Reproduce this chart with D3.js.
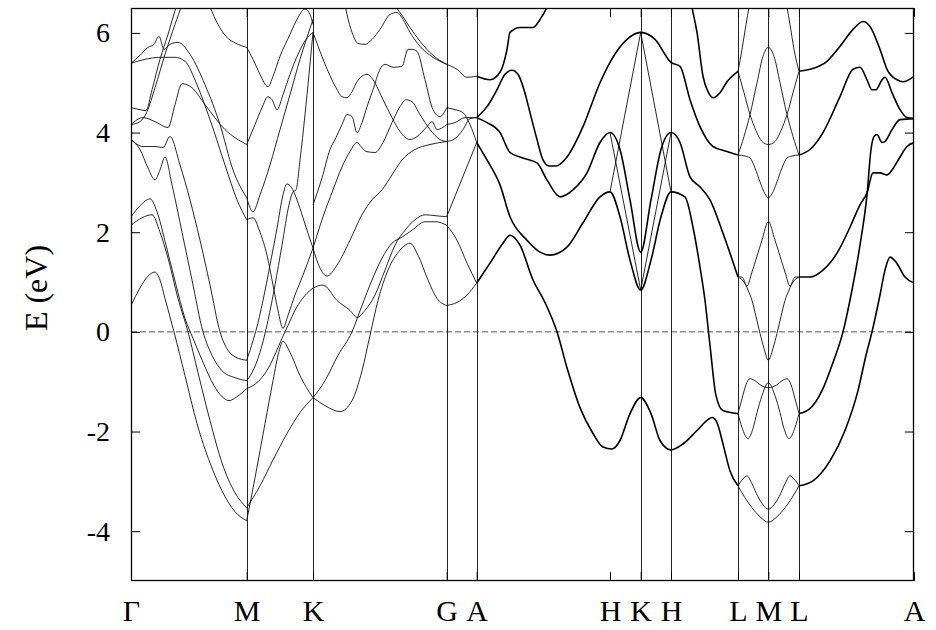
<!DOCTYPE html>
<html>
<head>
<meta charset="utf-8">
<script src="https://cdn.jsdelivr.net/npm/d3@7"></script>
<style>
  body { margin: 0; background: #fff; }
  svg text { font-family: "Liberation Serif", "DejaVu Serif", serif; fill: #000; }
</style>
</head>
<body>
<svg id="chart" width="936" height="630"></svg>
<script>
// k-path (arbitrary path-length units) and labels
const kPoints = [0, 1.157, 1.82, 3.157, 3.457, 4.79, 5.097, 5.40, 6.07, 6.373, 6.68, 7.83];
const kLabels = ["Γ", "M", "K", "G", "A", "H", "K", "H", "L", "M", "L", "A"];
const kGrid = [1.157, 1.82, 3.157, 3.457, 5.097, 5.40, 6.07, 6.373, 6.68];
const eTicks = [-4, -2, 0, 2, 4, 6];

// ---- bands, [k, E(eV)] ----
// Γ - M
const gm1 = [[0,0.53],[0.09,0.88],[0.17,1.12],[0.24,1.20],[0.29,1.04],[0.34,0.67],[0.43,0],[0.54,-0.88],[0.66,-1.84],[0.79,-2.63],[0.91,-3.19],[1.04,-3.61],[1.157,-3.79]];
const gm2 = [[0,2.14],[0.11,2.29],[0.21,2.35],[0.29,2.00],[0.37,1.48],[0.47,0.67],[0.57,0],[0.67,-0.82],[0.79,-1.78],[0.91,-2.63],[1.04,-3.23],[1.157,-3.53]];
const gm3 = [[0,2.31],[0.09,2.53],[0.19,2.67],[0.27,2.35],[0.35,1.74],[0.45,0.94],[0.54,0.27],[0.62,-0.13],[0.72,-0.61],[0.83,-1.08],[0.91,-1.30],[0.98,-1.38],[1.06,-1.30],[1.157,-1.14]];
const gm4 = [[0,3.86],[0.09,3.66],[0.17,3.29],[0.24,3.05],[0.29,3.25],[0.34,3.51],[0.41,2.95],[0.51,2.00],[0.61,1.04],[0.72,0],[0.81,-0.47],[0.91,-0.78],[1.04,-0.92],[1.157,-0.98]];
const gm5 = [[0,3.86],[0.12,3.72],[0.24,3.72],[0.32,3.70],[0.39,3.92],[0.49,3.35],[0.59,2.65],[0.69,1.84],[0.79,0.94],[0.89,0],[0.97,-0.37],[1.05,-0.51],[1.157,-0.57]];
const gm6 = [[0,4.16],[0.12,4.30],[0.24,4.22],[0.37,4.10],[0.44,4.56],[0.51,4.98],[0.61,4.90],[0.74,4.56],[0.94,4.06],[1.157,3.76]];
const gm7 = [[0,4.16],[0.09,4.22],[0.16,4.42],[0.24,4.90],[0.34,5.57],[0.44,6.17],[0.51,6.58],[0.54,6.78]];
const gm8 = [[0,4.50],[0.09,4.46],[0.15,4.44],[0.21,4.86],[0.29,5.47],[0.37,5.97],[0.45,6.52],[0.49,6.78]];
const gm9 = [[0,5.39],[0.09,5.55],[0.17,5.71],[0.23,5.77],[0.28,5.93],[0.33,5.67],[0.39,5.77],[0.47,5.81],[0.59,5.57],[0.74,4.96],[0.89,4.16],[1.02,3.25],[1.157,2.69]];
const gm10 = [[0,5.39],[0.14,5.47],[0.29,5.51],[0.44,5.51],[0.54,5.43],[0.66,4.96],[0.79,4.26],[0.94,3.35],[1.06,2.65],[1.157,2.25]];
const gm11 = [[0.74,6.78],[0.79,6.52],[0.87,6.17],[0.95,5.93],[1.05,5.79],[1.157,5.71]];
// M - K
const mk1 = [[1.157,-3.79],[1.24,-2.93],[1.34,-1.84],[1.42,-0.98],[1.48,-0.39],[1.52,-0.19],[1.59,-0.41],[1.69,-0.88],[1.82,-1.32]];
const mk2 = [[1.157,-3.53],[1.29,-3.09],[1.42,-2.57],[1.56,-2.04],[1.69,-1.62],[1.82,-1.32]];
const mk3 = [[1.157,-1.14],[1.27,-1.00],[1.37,-0.74],[1.45,-0.41],[1.51,-0.13],[1.57,0.13],[1.65,0.47],[1.74,0.73],[1.82,0.88]];
const mk4 = [[1.157,-0.98],[1.21,-0.82],[1.29,-0.41],[1.37,0.23],[1.44,0.94],[1.51,1.74],[1.58,2.55],[1.62,2.81],[1.65,2.85],[1.69,3.45],[1.74,4.36],[1.78,5.17],[1.82,6.01]];
const mk5 = [[1.157,-0.57],[1.19,-0.37],[1.25,0.03],[1.32,0.63],[1.39,1.34],[1.46,2.08],[1.52,2.75],[1.56,2.97],[1.60,2.91],[1.66,2.65],[1.72,2.29],[1.77,1.98],[1.82,1.68]];
const mk6 = [[1.157,2.25],[1.22,2.29],[1.29,2.00],[1.36,1.54],[1.42,0.94],[1.47,0.43],[1.52,0.07],[1.57,0.33],[1.64,0.74],[1.72,1.14],[1.82,1.68]];
const mk7 = [[1.157,2.69],[1.22,2.41],[1.29,2.75],[1.39,3.35],[1.49,4.06],[1.59,4.76],[1.69,5.47],[1.76,5.91],[1.82,6.27]];
const mk8 = [[1.157,3.76],[1.24,4.16],[1.31,4.50],[1.37,4.72],[1.41,4.66],[1.46,4.46],[1.52,4.76],[1.59,5.17],[1.67,5.57],[1.75,5.87],[1.82,6.01]];
const mk9 = [[1.157,5.71],[1.22,5.47],[1.29,5.17],[1.37,4.92],[1.42,5.13],[1.49,5.53],[1.59,5.97],[1.67,6.31],[1.74,6.48],[1.79,6.37],[1.82,6.17]];
// K - G
const kg1 = [[2.12,6.78],[2.16,6.37],[2.21,6.01],[2.27,5.79],[2.34,5.77],[2.41,5.87],[2.49,6.07],[2.59,6.37],[2.66,6.41],[2.72,6.27],[2.79,6.01],[2.89,5.73],[3.02,5.51],[3.157,5.37]];
const kg2 = [[2.62,6.58],[2.69,6.41],[2.79,6.11],[2.89,5.83],[3.02,5.55],[3.157,5.37]];
const kg3 = [[1.82,-1.32],[1.94,-1.48],[2.09,-1.60],[2.21,-1.38],[2.31,-0.78],[2.39,-0.07],[2.47,0.63],[2.57,1.24],[2.69,1.64],[2.79,1.78],[2.87,1.54],[2.97,1.04],[3.06,0.67],[3.157,0.53]];
const kg4 = [[1.82,-1.32],[1.94,-0.98],[2.07,-0.47],[2.21,0],[2.31,0.53],[2.41,1.04],[2.51,1.48],[2.61,1.78],[2.71,1.90],[2.81,2.04],[2.94,2.21],[3.05,2.21],[3.157,2.14]];
const kg5 = [[1.82,0.88],[1.92,0.94],[2.06,0.63],[2.19,0.43],[2.26,0.29],[2.34,0.43],[2.44,0.74],[2.54,1.24],[2.64,1.74],[2.74,2.04],[2.84,2.25],[2.94,2.35],[3.05,2.33],[3.157,2.31]];
const kg6 = [[1.82,6.01],[1.89,5.63],[1.97,5.23],[2.05,4.90],[2.11,4.72],[2.16,4.70],[2.21,4.82],[2.26,5.02],[2.31,5.13],[2.36,5.17],[2.42,5.06],[2.52,4.66],[2.61,4.30],[2.69,4.02],[2.79,3.86],[2.86,3.92],[2.96,4.12],[3.01,4.22],[3.06,4.06],[3.157,4.16]];
const kg7 = [[1.82,2.55],[1.91,3.09],[1.99,3.66],[2.05,3.90],[2.11,4.16],[2.16,4.36],[2.21,4.32],[2.26,4.00],[2.31,4.20],[2.36,4.52],[2.42,4.86],[2.49,5.27],[2.54,5.37],[2.62,5.31],[2.71,5.33],[2.77,5.67],[2.81,5.67],[2.86,5.63],[2.94,5.06],[3.02,4.46],[3.09,4.32],[3.157,4.50]];
const kg8 = [[1.82,1.68],[1.92,2.31],[2.02,2.85],[2.11,3.31],[2.19,3.62],[2.26,3.80],[2.30,3.72],[2.35,3.62],[2.44,3.60],[2.52,3.80],[2.61,4.20],[2.69,4.52],[2.75,4.66],[2.81,4.62],[2.89,4.36],[2.99,4.06],[3.09,3.86],[3.157,3.82]];
const kg9 = [[1.82,1.68],[1.89,1.28],[1.96,1.12],[2.06,1.34],[2.19,1.84],[2.31,2.35],[2.41,2.65],[2.51,2.85],[2.61,3.15],[2.71,3.45],[2.84,3.66],[2.99,3.76],[3.157,3.82]];
// G - A
const ga1 = [[3.157,4.50],[3.24,4.46],[3.32,4.40],[3.39,4.16],[3.457,3.80]];
const ga2 = [[3.157,4.16],[3.24,4.20],[3.34,4.30],[3.457,4.30]];
const ga3 = [[3.157,3.82],[3.24,3.88],[3.32,4.06],[3.39,4.28],[3.457,4.30]];
const ga4 = [[3.157,2.31],[3.457,3.80]];
const ga5 = [[3.157,2.14],[3.26,1.84],[3.36,1.38],[3.457,0.98]];
const ga6 = [[3.157,0.53],[3.26,0.59],[3.36,0.74],[3.457,0.98]];
const ga7 = [[3.157,5.37],[3.26,5.27],[3.36,5.11],[3.457,5.13]];
// A - H - K - H - L (degenerate, drawn heavier)
const ah1 = [[3.457,5.13],[3.59,5.06],[3.69,5.21],[3.76,5.67],[3.79,6.01],[3.89,6.11],[4.02,6.11],[4.09,6.27],[4.16,6.52],[4.22,6.88]];
const ah2 = [[3.457,4.30],[3.56,4.52],[3.66,4.86],[3.74,5.17],[3.81,5.25],[3.87,5.17],[3.93,4.86],[3.99,4.40],[4.06,3.86],[4.12,3.45],[4.18,3.33],[4.25,3.33],[4.36,3.51],[4.52,4.12],[4.69,5.00],[4.79,5.41],[4.96,5.87],[5.097,6.01],[5.24,5.87],[5.40,5.41],[5.49,5.33],[5.59,4.66],[5.69,4.12],[5.82,3.72],[5.96,3.62],[6.07,3.55]];
const ah3 = [[3.457,4.30],[3.56,4.20],[3.69,4.00],[3.79,3.60],[3.92,3.49],[4.06,3.39],[4.16,3.05],[4.29,2.71],[4.42,2.85],[4.56,3.19],[4.69,3.80],[4.79,4.00],[4.89,3.66],[4.99,2.65],[5.097,1.60],[5.20,2.65],[5.30,3.66],[5.40,4.00],[5.49,3.80],[5.59,3.11],[5.69,2.91],[5.79,2.65],[5.92,1.98],[6.07,1.10]];
const ah4 = [[3.457,3.80],[3.56,3.45],[3.69,2.95],[3.79,2.31],[3.96,1.84],[4.09,1.60],[4.19,1.54],[4.36,1.70],[4.52,2.19],[4.69,2.71],[4.79,2.81],[4.89,2.31],[4.99,1.44],[5.097,0.84],[5.20,1.44],[5.30,2.31],[5.40,2.81],[5.54,2.71],[5.62,2.10],[5.69,1.30],[5.74,0.63],[5.79,-0.27],[5.85,-1.28],[5.92,-1.58],[6.07,-1.64]];
const ah5 = [[3.457,0.98],[3.59,1.38],[3.72,1.78],[3.79,1.94],[3.89,1.74],[4.02,1.04],[4.14,0.59],[4.26,0],[4.36,-0.72],[4.49,-1.52],[4.62,-2.04],[4.72,-2.31],[4.81,-2.35],[4.89,-2.18],[4.99,-1.64],[5.097,-1.32],[5.20,-1.64],[5.29,-2.18],[5.40,-2.37],[5.52,-2.25],[5.66,-1.98],[5.77,-1.76],[5.81,-1.72],[5.86,-1.82],[5.92,-2.25],[5.99,-2.79],[6.07,-3.09]];
const hl1 = [[5.58,6.88],[5.61,6.52],[5.66,6.01],[5.72,5.13],[5.77,4.82],[5.82,4.70],[5.89,4.80],[5.96,5.02],[6.07,5.23]];
// H - K - H single bands
const hk1 = [[4.79,2.81],[5.097,6.01]];
const hk2 = [[4.79,4.00],[5.097,0.84]];
const hk3 = [[5.097,6.01],[5.40,2.81]];
const hk4 = [[5.097,0.84],[5.40,4.00]];
// L - M - L
const lm1 = [[6.07,5.23],[6.11,5.67],[6.15,6.17],[6.18,6.52],[6.21,6.88]];
const lm2 = [[6.53,6.88],[6.56,6.52],[6.59,6.17],[6.63,5.67],[6.68,5.23]];
const lm3 = [[6.07,5.23],[6.13,4.80],[6.19,4.36],[6.25,4.04],[6.31,3.82],[6.373,3.76],[6.44,3.82],[6.50,4.04],[6.56,4.36],[6.62,4.80],[6.68,5.23]];
const lm4 = [[6.07,3.55],[6.13,3.92],[6.19,4.36],[6.26,5.00],[6.32,5.53],[6.373,5.71],[6.43,5.53],[6.49,5.00],[6.56,4.36],[6.62,3.92],[6.68,3.55]];
const lm5 = [[6.07,3.55],[6.14,3.53],[6.19,3.49],[6.24,3.29],[6.29,3.01],[6.34,2.77],[6.373,2.69],[6.41,2.77],[6.46,3.01],[6.51,3.29],[6.56,3.49],[6.61,3.53],[6.68,3.55]];
const lm6 = [[6.07,1.10],[6.11,1.10],[6.16,0.92],[6.21,1.20],[6.26,1.52],[6.31,1.84],[6.373,2.21],[6.44,1.84],[6.49,1.52],[6.54,1.20],[6.59,0.92],[6.64,1.10],[6.68,1.10]];
const lm7 = [[6.07,1.10],[6.13,1.00],[6.17,0.84],[6.21,0.63],[6.25,0.31],[6.29,-0.03],[6.33,-0.33],[6.373,-0.57],[6.42,-0.33],[6.46,-0.03],[6.50,0.31],[6.54,0.63],[6.58,0.84],[6.62,1.00],[6.68,1.10]];
const lm8 = [[6.07,-1.64],[6.11,-1.92],[6.17,-2.14],[6.22,-1.94],[6.26,-1.62],[6.31,-1.28],[6.373,-1.02],[6.44,-1.28],[6.49,-1.62],[6.53,-1.94],[6.58,-2.14],[6.64,-1.92],[6.68,-1.64]];
const lm9 = [[6.07,-1.64],[6.11,-1.34],[6.15,-1.06],[6.19,-0.94],[6.24,-0.98],[6.29,-1.06],[6.373,-1.12],[6.46,-1.06],[6.51,-0.98],[6.56,-0.94],[6.60,-1.06],[6.64,-1.34],[6.68,-1.64]];
const lm10 = [[6.07,-3.09],[6.12,-2.95],[6.16,-2.89],[6.21,-3.05],[6.27,-3.31],[6.32,-3.47],[6.373,-3.56],[6.43,-3.47],[6.48,-3.31],[6.54,-3.05],[6.59,-2.89],[6.63,-2.95],[6.68,-3.09]];
const lm11 = [[6.07,-3.09],[6.14,-3.33],[6.21,-3.53],[6.29,-3.71],[6.373,-3.82],[6.46,-3.71],[6.54,-3.53],[6.61,-3.33],[6.68,-3.09]];
// L - A (degenerate)
const la1 = [[6.68,5.23],[6.79,5.27],[6.96,5.43],[7.09,5.73],[7.22,6.07],[7.32,6.23],[7.39,6.13],[7.49,5.67],[7.56,5.27],[7.66,5.06],[7.72,5.02],[7.83,5.13]];
const la2 = [[6.68,3.55],[6.79,3.66],[6.92,4.00],[7.09,4.72],[7.22,5.27],[7.29,5.31],[7.36,5.06],[7.41,4.86],[7.45,4.86],[7.51,5.06],[7.54,5.11],[7.61,4.80],[7.69,4.46],[7.76,4.30],[7.83,4.28]];
const la3 = [[6.68,1.10],[6.79,1.10],[6.92,1.24],[7.06,1.58],[7.19,2.10],[7.29,2.55],[7.36,2.79],[7.42,3.19],[7.49,3.19],[7.56,3.15],[7.61,3.25],[7.69,3.51],[7.76,3.72],[7.83,3.80]];
const la4 = [[6.68,-1.64],[6.79,-1.54],[6.91,-1.18],[7.01,-0.67],[7.12,0],[7.21,0.84],[7.29,1.74],[7.36,2.75],[7.40,3.66],[7.43,3.92],[7.46,3.96],[7.51,3.80],[7.54,3.82],[7.61,4.06],[7.69,4.26],[7.83,4.28]];
const la5 = [[6.68,-3.09],[6.82,-2.99],[6.99,-2.59],[7.14,-1.98],[7.27,-1.18],[7.35,-0.47],[7.41,0],[7.49,0.74],[7.54,1.24],[7.59,1.50],[7.65,1.40],[7.74,1.10],[7.83,0.98]];

const thinBands = [gm1, gm2, gm3, gm4, gm5, gm6, gm7, gm8, gm9, gm10, gm11,
  mk1, mk2, mk3, mk4, mk5, mk6, mk7, mk8, mk9,
  kg1, kg2, kg3, kg4, kg5, kg6, kg7, kg8, kg9,
  ga1, ga2, ga3, ga4, ga5, ga6, ga7,
  hk1, hk2, hk3, hk4,
  lm1, lm2, lm3, lm4, lm5, lm6, lm7, lm8, lm9, lm10, lm11];
const thickBands = [ah1, ah2, ah3, ah4, ah5, hl1, la1, la2, la3, la4, la5];

// ---- drawing ----
const plotL = 131, plotR = 914, plotT = 8, plotB = 581;
const x = d3.scaleLinear().domain([0, 7.83]).range([plotL, plotR]);
const y = d3.scaleLinear().domain([-5, 6.5]).range([plotB, plotT]);

const svg = d3.select('#chart');
svg.append('rect').attr('width', 936).attr('height', 630).attr('fill', '#fff');

svg.append('defs').append('clipPath').attr('id', 'plot-area')
   .append('rect')
   .attr('x', plotL).attr('y', plotT)
   .attr('width', plotR - plotL).attr('height', plotB - plotT);

// Fermi level
svg.append('line')
   .attr('x1', plotL).attr('x2', plotR)
   .attr('y1', y(0)).attr('y2', y(0))
   .attr('stroke', '#555').attr('stroke-width', 1)
   .attr('stroke-dasharray', '6,3');

// high-symmetry lines
svg.selectAll('.kline')
   .data(kGrid)
   .enter().append('line')
   .attr('class', 'kline')
   .attr('x1', d => Math.round(x(d)) + 0.5).attr('x2', d => Math.round(x(d)) + 0.5)
   .attr('y1', plotT).attr('y2', plotB)
   .attr('stroke', '#222').attr('stroke-width', 1);

const line = d3.line()
   .x(d => x(d[0]))
   .y(d => y(d[1]))
   .curve(d3.curveMonotoneX);

const bands = svg.append('g').attr('clip-path', 'url(#plot-area)');

bands.selectAll('.thin')
   .data(thinBands)
   .enter().append('path')
   .attr('class', 'thin')
   .attr('fill', 'none')
   .attr('stroke', '#111')
   .attr('stroke-width', 0.9)
   .attr('d', line);

bands.selectAll('.thick')
   .data(thickBands)
   .enter().append('path')
   .attr('class', 'thick')
   .attr('fill', 'none')
   .attr('stroke', '#000')
   .attr('stroke-width', 1.6)
   .attr('d', line);

// axes
const yAxis = d3.axisLeft(y).tickValues(eTicks).tickSizeInner(-9).tickSizeOuter(0)
   .tickPadding(21).tickFormat(d => String(d));
const gy = svg.append('g').attr('transform', `translate(${plotL},0)`).call(yAxis);
gy.selectAll('text').attr('font-size', 28).attr('font-family', '"Liberation Serif", serif');

const yAxisR = d3.axisRight(y).tickValues(eTicks).tickSizeInner(-9).tickSizeOuter(0).tickFormat('');
svg.append('g').attr('transform', `translate(${plotR},0)`).call(yAxisR);

const xAxis = d3.axisBottom(x).tickValues(kPoints).tickSizeInner(-9).tickSizeOuter(0)
   .tickPadding(19).tickFormat((d, i) => kLabels[i]);
const gx = svg.append('g').attr('transform', `translate(0,${plotB})`).call(xAxis);
gx.selectAll('text').attr('font-size', 30).attr('font-family', '"Liberation Serif", serif');

const xAxisT = d3.axisTop(x).tickValues(kPoints).tickSizeInner(-9).tickSizeOuter(0).tickFormat('');
svg.append('g').attr('transform', `translate(0,${plotT})`).call(xAxisT);

svg.selectAll('.domain').remove();
svg.selectAll('.tick line').attr('stroke', '#000');

// frame
svg.append('rect')
   .attr('x', plotL + 0.5).attr('y', plotT + 0.5)
   .attr('width', plotR - plotL - 1).attr('height', plotB - plotT - 1)
   .attr('fill', 'none').attr('stroke', '#000').attr('stroke-width', 1.3);

// y label
svg.append('text')
   .attr('transform', 'translate(47,288) rotate(-90)')
   .attr('text-anchor', 'middle')
   .attr('font-size', 32)
   .text('E (eV)');
</script>
</body>
</html>
